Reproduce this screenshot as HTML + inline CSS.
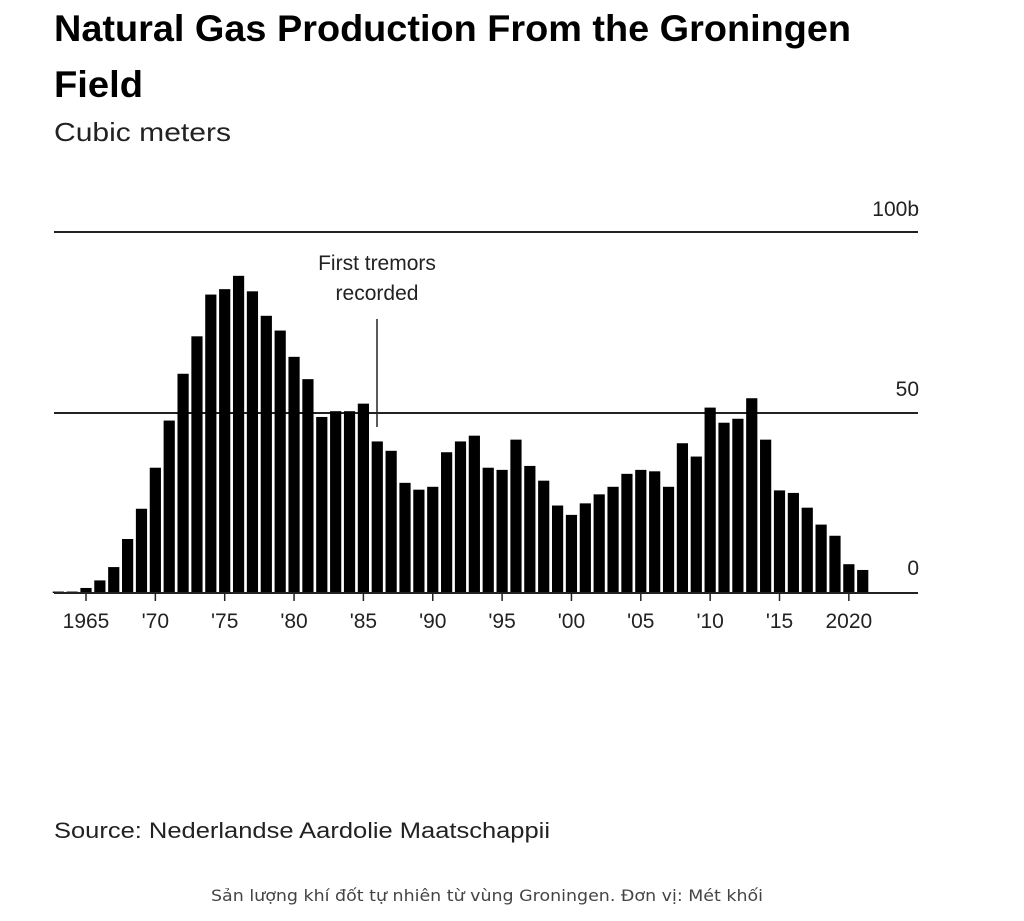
<!DOCTYPE html>
<html><head><meta charset="utf-8"><style>
html,body{margin:0;padding:0;background:#fff;}
svg{display:block;}
</style></head><body>
<svg id="c" width="1024" height="921" xmlns="http://www.w3.org/2000/svg" font-family="Liberation Sans, sans-serif">
<text x="54" y="41" font-size="37" font-weight="bold" fill="#000" textLength="797" lengthAdjust="spacingAndGlyphs">Natural Gas Production From the Groningen</text>
<text x="54" y="97" font-size="37" font-weight="bold" fill="#000" textLength="89" lengthAdjust="spacingAndGlyphs">Field</text>
<text x="54" y="141" font-size="26" fill="#222" textLength="177" lengthAdjust="spacingAndGlyphs">Cubic meters</text>
<line x1="54" y1="232" x2="918" y2="232" stroke="#222" stroke-width="2"/>
<line x1="54" y1="413" x2="918" y2="413" stroke="#222" stroke-width="2"/>
<text x="919" y="216" font-size="21" fill="#222" text-anchor="end">100b</text>
<text x="919" y="396" font-size="21" fill="#222" text-anchor="end">50</text>
<text x="919" y="575" font-size="21" fill="#222" text-anchor="end">0</text>
<text x="377" y="270" font-size="21" fill="#222" text-anchor="middle">First tremors</text>
<text x="377" y="300" font-size="21" fill="#222" text-anchor="middle">recorded</text>
<line x1="377" y1="319" x2="377" y2="427" stroke="#222" stroke-width="1.5"/>
<g id="bars"></g>
<line x1="54" y1="593" x2="918" y2="593" stroke="#222" stroke-width="2"/>
<g id="ticks"></g>
<text x="54" y="838" font-size="22" fill="#222" textLength="496" lengthAdjust="spacingAndGlyphs">Source: Nederlandse Aardolie Maatschappii</text>
<text x="487" y="901" font-size="16" fill="#444" text-anchor="middle" font-family="DejaVu Sans, sans-serif" textLength="552" lengthAdjust="spacingAndGlyphs">Sản lượng khí đốt tự nhiên từ vùng Groningen. Đơn vị: Mét khối</text>
</svg>
<script>
var v={1963:0.4,1964:0.4,1965:1.4,1966:3.5,1967:7.2,1968:15,1969:23.4,1970:34.8,1971:47.9,1972:60.9,1973:71.3,1974:82.9,1975:84.4,1976:88.1,1977:83.8,1978:77,1979:72.9,1980:65.6,1981:59.4,1982:48.9,1983:50.5,1984:50.5,1985:52.6,1986:42.1,1987:39.5,1988:30.6,1989:28.7,1990:29.5,1991:39.1,1992:42.1,1993:43.7,1994:34.8,1995:34.2,1996:42.6,1997:35.3,1998:31.2,1999:24.3,2000:21.7,2001:24.9,2002:27.4,2003:29.5,2004:33.1,2005:34.2,2006:33.8,2007:29.5,2008:41.6,2009:37.9,2010:51.5,2011:47.3,2012:48.4,2013:54.1,2014:42.6,2015:28.5,2016:27.8,2017:23.7,2018:19,2019:15.9,2020:8,2021:6.4};
var ns="http://www.w3.org/2000/svg",g=document.getElementById("bars"),t=document.getElementById("ticks");
function X(y){return 86+(y-1965)*13.87;}
for(var y in v){var h=v[y]*3.6,r=document.createElementNS(ns,"rect");
r.setAttribute("x",X(+y)-5.6);r.setAttribute("width",11.2);r.setAttribute("y",593-h);r.setAttribute("height",h);r.setAttribute("fill","#000");g.appendChild(r);}
var labs=[[1965,"1965"],[1970,"'70"],[1975,"'75"],[1980,"'80"],[1985,"'85"],[1990,"'90"],[1995,"'95"],[2000,"'00"],[2005,"'05"],[2010,"'10"],[2015,"'15"],[2020,"2020"]];
labs.forEach(function(l){var x=X(l[0]);var ln=document.createElementNS(ns,"line");
ln.setAttribute("x1",x);ln.setAttribute("x2",x);ln.setAttribute("y1",593);ln.setAttribute("y2",601);ln.setAttribute("stroke","#222");ln.setAttribute("stroke-width","1.5");t.appendChild(ln);
var tx=document.createElementNS(ns,"text");tx.setAttribute("x",x);tx.setAttribute("y",628);tx.setAttribute("font-size","21");tx.setAttribute("fill","#222");tx.setAttribute("text-anchor","middle");tx.textContent=l[1];t.appendChild(tx);});
</script>
</body></html>
